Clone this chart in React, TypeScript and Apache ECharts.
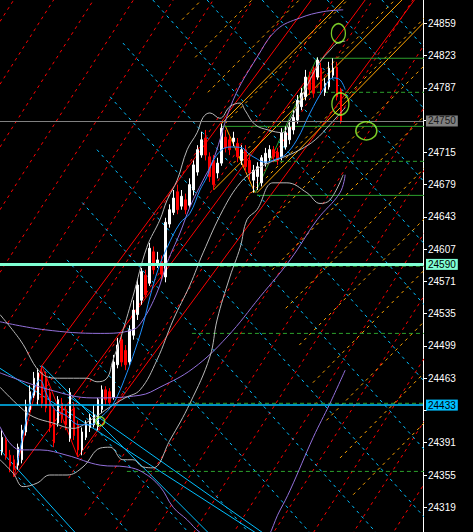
import React, { useEffect, useRef } from "react";
import * as echarts from "echarts";

const SLOT_COUNT = 106;
const PRICE_MIN = 24291.4;
const PRICE_MAX = 24885;

const priceTicks = [24859, 24823, 24787, 24751, 24715, 24679, 24643, 24607, 24571, 24535, 24499, 24463, 24427, 24391, 24355, 24319];
// tick labels that are not covered by a price box
const priceTickLabels = [24859, 24823, 24787, 24715, 24679, 24643, 24607, 24571, 24535, 24499, 24463, 24391, 24355, 24319];

// [open, close, low, high]
const candleOHLC: number[][] = [
  [24381, 24397, 24377, 24405], [24394, 24375, 24372, 24397], [24377, 24365, 24358, 24383], [24372, 24361, 24353, 24377],
  [24366, 24386, 24361, 24390], [24372, 24405, 24368, 24411], [24403, 24431, 24399, 24439], [24428, 24448, 24425, 24455],
  [24444, 24463, 24441, 24470], [24439, 24469, 24433, 24474], [24470, 24435, 24430, 24477], [24463, 24430, 24425, 24470],
  [24447, 24409, 24403, 24452], [24428, 24391, 24386, 24433], [24413, 24439, 24409, 24443], [24435, 24419, 24413, 24441],
  [24428, 24411, 24405, 24433], [24396, 24447, 24392, 24452], [24430, 24399, 24394, 24436], [24411, 24383, 24375, 24416],
  [24383, 24403, 24377, 24408], [24397, 24412, 24394, 24416], [24408, 24419, 24403, 24423], [24411, 24422, 24408, 24433],
  [24409, 24439, 24405, 24441], [24428, 24450, 24424, 24455], [24450, 24439, 24433, 24454], [24448, 24436, 24432, 24452],
  [24442, 24481, 24439, 24489], [24478, 24500, 24474, 24508], [24506, 24481, 24476, 24511], [24494, 24478, 24472, 24500],
  [24481, 24517, 24477, 24522], [24511, 24539, 24506, 24550], [24534, 24567, 24528, 24573], [24550, 24582, 24545, 24586],
  [24578, 24556, 24553, 24584], [24569, 24608, 24566, 24614], [24604, 24584, 24579, 24610], [24590, 24595, 24586, 24604],
  [24593, 24579, 24573, 24600], [24576, 24637, 24570, 24642], [24635, 24651, 24631, 24657], [24648, 24664, 24645, 24673],
  [24671, 24651, 24646, 24679], [24655, 24666, 24651, 24673], [24662, 24651, 24646, 24669], [24656, 24679, 24653, 24686],
  [24673, 24701, 24667, 24706], [24693, 24718, 24689, 24723], [24712, 24729, 24709, 24738], [24731, 24712, 24706, 24740],
  [24710, 24688, 24682, 24715], [24706, 24679, 24673, 24712], [24692, 24703, 24686, 24709], [24703, 24742, 24700, 24747],
  [24732, 24720, 24715, 24740], [24729, 24718, 24712, 24734], [24727, 24731, 24722, 24738], [24725, 24710, 24704, 24731],
  [24706, 24718, 24701, 24723], [24718, 24699, 24693, 24723], [24706, 24692, 24684, 24712], [24684, 24695, 24670, 24701],
  [24688, 24699, 24673, 24704], [24681, 24709, 24677, 24712], [24703, 24714, 24699, 24720], [24709, 24718, 24704, 24723],
  [24718, 24710, 24704, 24722], [24715, 24706, 24701, 24720], [24710, 24737, 24706, 24742], [24721, 24737, 24718, 24744],
  [24729, 24743, 24724, 24751], [24740, 24754, 24735, 24762], [24751, 24773, 24747, 24779], [24766, 24781, 24762, 24787],
  [24777, 24799, 24773, 24807], [24799, 24785, 24779, 24805], [24807, 24781, 24776, 24811], [24799, 24818, 24796, 24821],
  [24809, 24785, 24779, 24815], [24782, 24792, 24778, 24798], [24788, 24809, 24785, 24816], [24801, 24809, 24798, 24820],
  [24810, 24777, 24773, 24816], [24785, 24749, 24747, 24787],
];

// indicator curves: [bar, price]
const blueMA = [[3.8, 24368], [5.8, 24411], [7.8, 24447], [9.5, 24461], [11.3, 24444], [13.3, 24428], [15.8, 24422], [19.5, 24411], [22.1, 24411], [24.6, 24419], [27.1, 24430], [28.8, 24442], [31.3, 24469], [33.3, 24494], [35.3, 24522], [37.1, 24554], [39.1, 24584], [41.4, 24609], [44.6, 24636], [47.1, 24647], [49.6, 24673], [51.4, 24688], [52.6, 24703], [55.1, 24718], [57.6, 24721], [60.2, 24720], [61.7, 24714], [63.4, 24709], [65.9, 24704], [68.4, 24707], [70.9, 24712], [73.9, 24729], [77.2, 24759], [80.5, 24785], [83.0, 24798], [84.7, 24796], [86.0, 24785]];

const bandUpper = [[-0.5, 24534], [4.5, 24506], [10.3, 24467], [14.5, 24463], [21.3, 24463], [23.8, 24459], [26.3, 24463], [27.8, 24483], [29.6, 24506], [32.8, 24554], [36.3, 24609], [39.6, 24640], [41.4, 24662], [43.9, 24684], [46.4, 24718], [48.9, 24737], [50.4, 24754], [52.1, 24759], [54.6, 24753], [57.1, 24766], [59.7, 24770], [60.9, 24762], [63.4, 24746], [66.7, 24740], [70.2, 24737], [72.2, 24751], [74.7, 24773], [77.2, 24796], [79.7, 24816], [82.2, 24829], [84.0, 24837], [86.0, 24839]];
const bandMiddle = [[-0.5, 24453], [4.5, 24431], [7.8, 24420], [12.8, 24413], [17.8, 24407], [22.1, 24416], [27.1, 24431], [30.8, 24441], [34.6, 24450], [38.8, 24483], [42.9, 24528], [47.1, 24567], [50.4, 24603], [55.4, 24651], [59.7, 24681], [63.4, 24695], [67.2, 24704], [70.2, 24709], [74.7, 24718], [78.5, 24729], [82.2, 24746], [86.0, 24765]];
const bandLower = [[-0.5, 24372], [2.8, 24357], [5.3, 24342], [8.8, 24346], [12.0, 24355], [16.3, 24355], [20.3, 24364], [24.6, 24385], [27.1, 24386], [30.3, 24372], [32.8, 24372], [35.3, 24364], [37.8, 24363], [42.1, 24394], [47.1, 24435], [52.1, 24487], [53.9, 24528], [57.1, 24576], [59.7, 24609], [61.4, 24640], [63.9, 24651], [67.9, 24681], [71.4, 24681], [76.4, 24670], [79.7, 24658], [82.2, 24662], [85.5, 24690]];

const envUpper = [[-0.5, 24526], [10.8, 24517], [24.6, 24513], [32.8, 24517], [35.3, 24528], [38.8, 24558], [41.4, 24592], [44.6, 24625], [47.1, 24654], [50.4, 24684], [52.9, 24706], [57.9, 24773], [63.9, 24821], [68.9, 24852], [74.7, 24865], [80.5, 24872], [85.5, 24874]];
const envMiddle = [[-0.5, 24469], [12.0, 24450], [22.8, 24441], [34.6, 24444], [39.6, 24453], [47.9, 24474], [56.4, 24509], [64.7, 24554], [72.2, 24595], [79.0, 24640], [84.7, 24670], [86.0, 24690]];
const envLower = [[-0.5, 24409], [4.5, 24383], [9.5, 24383], [16.3, 24377], [24.6, 24366], [31.3, 24364], [35.3, 24358], [39.6, 24342], [42.9, 24319], [46.4, 24305], [49.6, 24291], [57.1, 24271], [64.7, 24277], [69.7, 24316], [72.2, 24338], [78.0, 24397], [82.2, 24435], [86.0, 24472]];

// drawing objects
const zigzag = [[3, 24353], [10, 24477], [19, 24375]];
const redChannel = [
  [[19, 24375], [106, 24901]],
  [[10, 24477], [78, 24888]],
  [[3, 24353], [92, 24891]],
];
const redDashLeftPrices = [24861, 24791, 24721, 24651, 24581, 24511, 24441, 24371, 24301, 24231, 24161, 24091, 24021, 23951, 23881, 23811, 23741, 23671, 23601];
const redDashEdge = [[-0.5, 24528], [22.6, 24291]];
const RED_DASH_SLOPE = 7;

const cyanDashStarts = [[37.8, 24885], [30.3, 24837], [27.1, 24777], [23.8, 24718], [20.1, 24659], [16.3, 24595], [12.8, 24536], [9.5, 24477], [6.3, 24418], [3.0, 24358], [51.4, 24885], [65.2, 24885], [81.5, 24885], [95.2, 24885]];
const CYAN_DASH_SLOPE = -5;
const cyanSolid = [
  [[10, 24477], [51.6, 24291]],
  [[-0.5, 24474], [63.4, 24291]],
  [[17.0, 24442], [65.2, 24291]],
  [[-0.5, 24383], [18.3, 24291]],
];

const orangeDashStarts = [[45.1, 24863], [48.4, 24821], [51.6, 24782], [54.8, 24742], [58.0, 24703], [61.2, 24664], [64.3, 24625], [67.7, 24584], [71.1, 24541], [74.5, 24500], [77.9, 24458], [81.3, 24416], [84.7, 24374], [88.0, 24333]];
const ORANGE_DASH_SLOPE = 4.5;
const orangeSolid = [
  [[55.9, 24745], [63.4, 24670]],
  [[63.9, 24670], [105.5, 24859]],
  [[55, 24747], [87, 24891]],
  [[53, 24673], [102, 24893]],
];

const fibDiagonal = [[63.5, 24670], [79, 24821]];
const fibLevels = [24820, 24782, 24744, 24705, 24667, 24588, 24513, 24435, 24359];
const fibStartBars = [79.7, 77.2, 55.1, 67.9, 63.9, 54.6, 47.6, 39.6, 31.3];

const priceLineValues = [24750, 24590, 24433];
const circleCenters = [[84.3, 24848], [84.8, 24769], [91.3, 24739], [24.6, 24415]];

const RED = "#ff0000";
const CYAN = "#00bfff";
const ORANGE = "#ffa500";
const GREEN = "#2ca02c";
const FONT = "Liberation Sans, Arial, sans-serif";

function seg(data: number[][], color: string, width: number, type: any, z: number, smooth: any = false) {
  return {
    type: "line",
    xAxisIndex: 1,
    yAxisIndex: 0,
    data,
    symbol: "none",
    showSymbol: false,
    silent: true,
    smooth,
    z,
    lineStyle: { color, width, type },
    animation: false,
  };
}

export default function App() {
  const ref = useRef<HTMLDivElement>(null);

  useEffect(() => {
    if (!ref.current) return;
    const chart = echarts.init(ref.current, null, { renderer: "svg" });
    const slotLabels = Array.from({ length: SLOT_COUNT }, (_, i) => String(i));
    const series: any[] = [];
    const dot = [3, 4];

    // red dotted grid
    const [[bx0, by0], [bx1, by1]] = redDashEdge;
    const bs = (by1 - by0) / (bx1 - bx0);
    redDashLeftPrices.forEach((L) => {
      let u = (by0 - L) / (RED_DASH_SLOPE - bs);
      if (u < 0) u = 0;
      const x0 = bx0 + u;
      const y0 = L + RED_DASH_SLOPE * u;
      const x1 = SLOT_COUNT;
      const y1 = L + RED_DASH_SLOPE * (x1 - bx0);
      series.push(seg([[x0, y0], [x1, y1]], RED, 1, dot, 1));
    });
    cyanDashStarts.forEach(([x0, y0]) => {
      series.push(seg([[x0, y0], [SLOT_COUNT, y0 + CYAN_DASH_SLOPE * (SLOT_COUNT - x0)]], CYAN, 1, dot, 1));
    });
    orangeDashStarts.forEach(([x0, y0]) => {
      series.push(seg([[x0, y0], [SLOT_COUNT, y0 + ORANGE_DASH_SLOPE * (SLOT_COUNT - x0)]], ORANGE, 1, dot, 1));
    });

    // solid drawing lines
    series.push(seg(zigzag, RED, 1, "solid", 2));
    redChannel.forEach((l) => series.push(seg(l, RED, 1, "solid", 2)));
    cyanSolid.forEach((l) => series.push(seg(l, CYAN, 1, "solid", 2)));
    orangeSolid.forEach((l) => series.push(seg(l, ORANGE, 1, "solid", 2)));
    series.push(seg(fibDiagonal, GREEN, 1, "solid", 2));
    fibLevels.forEach((p, k) => {
      const solid = k % 2 === 0 && k <= 4;
      series.push(seg([[fibStartBars[k], p], [SLOT_COUNT, p]], GREEN, 1, solid ? "solid" : [4, 3], 2));
    });

    // indicator curves
    series.push(seg(envUpper, "#9370db", 1, "solid", 4, 0.4));
    series.push(seg(envMiddle, "#9370db", 1, "solid", 4, 0.4));
    series.push(seg(envLower, "#9370db", 1, "solid", 4, 0.4));
    series.push(seg(bandUpper, "#b8b8b8", 1, "solid", 4, 0.4));
    series.push(seg(bandMiddle, "#b8b8b8", 1, "solid", 4, 0.4));
    series.push(seg(bandLower, "#b8b8b8", 1, "solid", 4, 0.4));
    series.push(seg(blueMA, "#1e90ff", 1, "solid", 4, 0.4));

    const lineColors = ["#808080", "#7fffd4", "#00bfff"];
    const lineWidths = [1, 3, 1.5];
    const textColors = ["#1a1a1a", "#000000", "#000000"];

    series.push({
      type: "candlestick",
      xAxisIndex: 0,
      yAxisIndex: 0,
      data: candleOHLC,
      barWidth: 2,
      clip: false,
      z: 3,
      silent: true,
      animation: false,
      itemStyle: {
        color: "#ffffff",
        color0: "#ff0000",
        borderColor: "#ffffff",
        borderColor0: "#ff0000",
        borderWidth: 1,
      },
      markLine: {
        silent: true,
        symbol: ["none", "none"],
        animation: false,
        data: priceLineValues.map((v, k) => ({
          yAxis: v,
          lineStyle: { color: lineColors[k], width: lineWidths[k], type: "solid" },
          label: {
            show: true,
            position: "end",
            distance: 3,
            formatter: String(v),
            color: textColors[k],
            backgroundColor: lineColors[k],
            padding: [1, 2, 0, 2],
            fontSize: 10,
            fontFamily: FONT,
          },
        })),
      },
    });

    const circleSizes = [[14, 19], [17, 22], [21, 18], [9, 9]];
    series.push({
      type: "scatter",
      xAxisIndex: 1,
      yAxisIndex: 0,
      silent: true,
      z: 6,
      animation: false,
      symbol: "circle",
      data: circleCenters.map((c, k) => ({ value: c, symbolSize: circleSizes[k] })),
      itemStyle: { color: "rgba(0,0,0,0)", borderColor: "#9aff32", borderWidth: 1.5 },
    });

    chart.setOption({
      animation: false,
      backgroundColor: "#000000",
      textStyle: { fontFamily: FONT },
      grid: { left: 0, right: 50, top: 0, bottom: 0, containLabel: false },
      xAxis: [
        { type: "category", data: slotLabels, show: false, boundaryGap: true },
        { type: "value", min: -0.5, max: SLOT_COUNT - 0.5, show: false },
      ],
      yAxis: [
        {
          type: "value",
          position: "right",
          min: PRICE_MIN,
          max: PRICE_MAX,
          scale: true,
          splitLine: { show: false },
          axisLine: { show: true, onZero: false, lineStyle: { color: "#ffffff", width: 1 } },
          axisTick: { show: true, length: 4, lineStyle: { color: "#ffffff" }, customValues: priceTicks },
          axisLabel: {
            show: true,
            color: "#ffffff",
            fontSize: 10,
            fontFamily: FONT,
            margin: 5,
            customValues: priceTickLabels,
            formatter: (v: number) => String(Math.round(v)),
          },
        },
      ],
      series,
    });
    return () => chart.dispose();
  }, []);

  return (
    <div
      ref={ref}
      style={{ position: "absolute", left: 0, top: 0, width: 473, height: 532, background: "#000" }}
    />
  );
}
